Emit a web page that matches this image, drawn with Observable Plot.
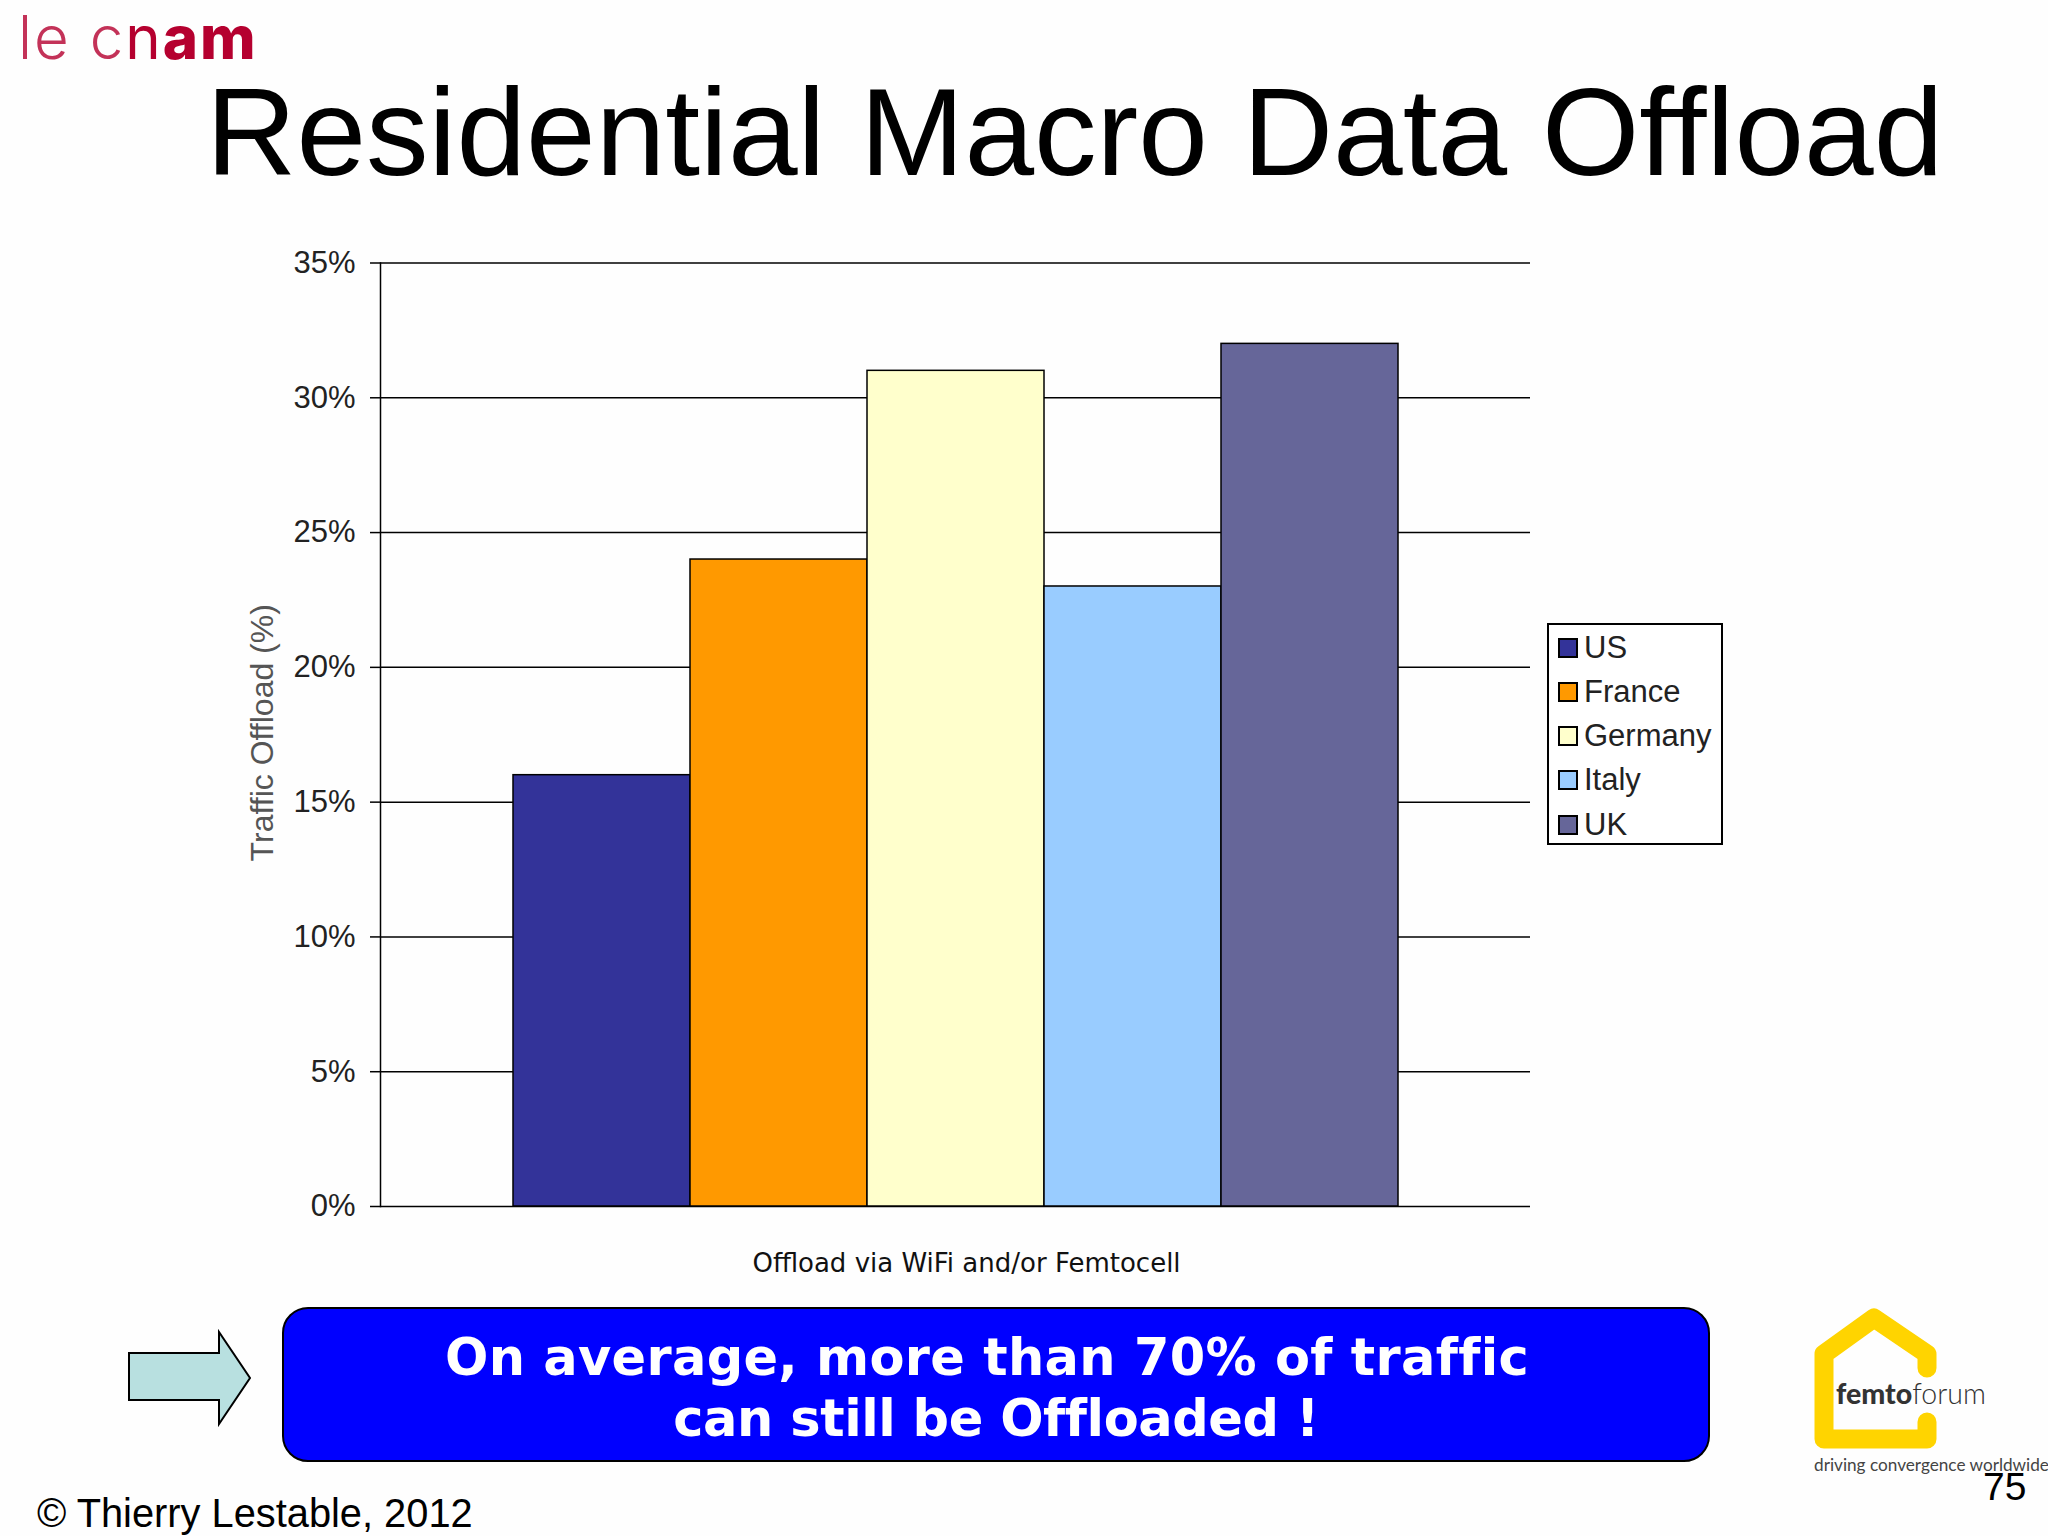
<!DOCTYPE html>
<html>
<head>
<meta charset="utf-8">
<script src="https://cdn.jsdelivr.net/npm/d3@7"></script>
<script src="https://cdn.jsdelivr.net/npm/@observablehq/plot@0.6"></script>
<style>
html,body{margin:0;padding:0;background:#fefefe;}
#page{position:relative;width:2048px;height:1536px;overflow:hidden;font-family:"Liberation Sans",Arial,sans-serif;background:#fefefe;}
#chart svg{position:absolute;left:0;top:0;background:transparent;}
.abs{position:absolute;white-space:nowrap;}
#title{left:206px;top:60px;font-size:125.2px;line-height:144px;color:#000;font-variant-ligatures:none;}
#cnam{left:18px;top:3px;font-family:Inter,sans-serif;font-size:60px;line-height:68px;color:#b5002f;letter-spacing:2px;}
#cnam .l{font-weight:300;opacity:.8;} #cnam .r{font-weight:400;} #cnam .b{font-weight:800;}
#legend{left:1547px;top:623px;width:172px;height:218px;border:2px solid #000;background:#fff;box-sizing:content-box;}
.row{position:absolute;left:9px;height:44px;display:flex;align-items:center;font-size:31px;color:#222;}
.sw{border:2px solid #000;margin-right:6px;box-sizing:border-box;width:20px;height:20px;}
#banner{left:282px;top:1307px;width:1428px;height:155px;box-sizing:border-box;background:#0000ff;border:2px solid #000;border-radius:26px;color:#fff;font-family:"DejaVu Sans",sans-serif;font-weight:bold;font-size:51px;text-align:center;line-height:61px;font-variant-ligatures:none;}
#banner div{position:absolute;white-space:nowrap;}
#copy{left:37px;top:1493px;font-size:39.8px;line-height:40px;color:#000;}
#page-no{left:1983px;top:1464px;font-size:39px;line-height:46px;color:#000;}
#ff{left:1836px;top:1374px;font-family:Lato,sans-serif;font-size:28.5px;line-height:38px;color:#333;}
#ff b{font-weight:900;} #ff span{font-weight:300;}
#ff2{left:1814px;top:1453px;font-family:Lato,sans-serif;font-size:17.2px;line-height:24px;color:#444;}
</style>
</head>
<body>
<div id="page">
  <div id="chart"></div>
  <div id="cnam" class="abs"><span class="l">le c</span><span class="r">n</span><span class="b">am</span></div>
  <div id="title" class="abs"></div>
  <div id="legend" class="abs"></div>
  <svg class="abs" style="left:120px;top:1320px" width="140" height="115" viewBox="120 1320 140 115">
    <polygon points="129,1353 219,1353 219,1332 250,1378 219,1424 219,1400 129,1400" fill="#b8e0e0" stroke="#000" stroke-width="2"/>
  </svg>
  <div id="banner" class="abs"><div id="b1"></div><div id="b2"></div></div>
  <svg class="abs" style="left:1800px;top:1295px" width="150" height="165" viewBox="1800 1295 150 165">
    <path d="M1927,1368 L1927,1354 L1874,1318 L1824,1354 L1824,1439 L1927,1439 L1927,1422" fill="none" stroke="#ffd400" stroke-width="19" stroke-linejoin="round" stroke-linecap="round"/>
  </svg>
  <div id="ff" class="abs"><b>femto</b><span>forum</span></div>
  <div id="ff2" class="abs">driving convergence worldwide</div>
  <div id="page-no" class="abs"></div>
  <div id="copy" class="abs"></div>
</div>
<script>
const countries = ["US", "France", "Germany", "Italy", "UK"];
const offload = [16, 24, 31, 23, 32];
const colors = ["#333399", "#ff9900", "#ffffcc", "#99ccff", "#666699"];
const yTicks = [0, 5, 10, 15, 20, 25, 30, 35];
const titleText = "Residential Macro Data Offload";
const yTitle = "Traffic Offload (%)";
const xTitle = "Offload via WiFi and/or Femtocell";
const bannerLines = ["On average, more than 70% of traffic", "can still be Offloaded !"];
const copyText = "\u00a9 Thierry Lestable, 2012";
const pageNumber = "75";

const rows = countries.map((c, i) => ({country: c, value: offload[i]}));

const chart = Plot.plot({
  width: 2048,
  height: 1536,
  marginLeft: 380,
  marginRight: 518,
  marginTop: 262.5,
  marginBottom: 330,
  style: {fontFamily: '"Liberation Sans", Arial, sans-serif', background: "transparent", overflow: "visible"},
  x: {domain: countries, paddingInner: 0, paddingOuter: 0.746, align: 0.5, axis: null},
  y: {domain: [0, 35], ticks: yTicks},
  color: {domain: countries, range: colors},
  marks: [
    Plot.gridY(yTicks, {stroke: "#000", strokeOpacity: 1, strokeWidth: 1.5}),
    Plot.frame({anchor: "left", stroke: "#000", strokeWidth: 1.5}),
    Plot.axisY(yTicks, {
      tickSize: 10, tickPadding: 15, fontSize: 31, fill: "#222", stroke: "#000", strokeWidth: 1.5,
      tickFormat: d => d + "%", label: null
    }),
    Plot.text([yTitle], {
      frameAnchor: "left", rotate: -90, dx: -118, dy: -2, fontSize: 32, fill: "#555", textAnchor: "middle"
    }),
    Plot.text([xTitle], {
      frameAnchor: "bottom", dx: 11, dy: 65, fontSize: 26, fill: "#111",
      fontFamily: '"DejaVu Sans", sans-serif'
    }),
    Plot.barY(rows, {x: "country", y: "value", fill: "country", stroke: "#000", strokeWidth: 1.5})
  ]
});
document.getElementById("chart").appendChild(chart);

document.getElementById("title").textContent = titleText;
document.getElementById("copy").textContent = copyText;
document.getElementById("page-no").textContent = pageNumber;

const b1 = document.getElementById("b1"), b2 = document.getElementById("b2");
b1.textContent = bannerLines[0]; b1.style.cssText = "width:1424px;top:18px;left:-9px;letter-spacing:0.3px;";
b2.textContent = bannerLines[1]; b2.style.cssText = "left:0;width:1424px;top:79px;letter-spacing:-0.43px;";

const legend = document.getElementById("legend");
countries.forEach((c, i) => {
  const row = document.createElement("div");
  row.className = "row";
  row.style.top = (0.5 + i * 44.3) + "px";
  const sw = document.createElement("span");
  sw.className = "sw";
  sw.style.background = colors[i];
  const t = document.createElement("span");
  t.textContent = c;
  row.append(sw, t);
  legend.appendChild(row);
});
</script>
</body>
</html>
